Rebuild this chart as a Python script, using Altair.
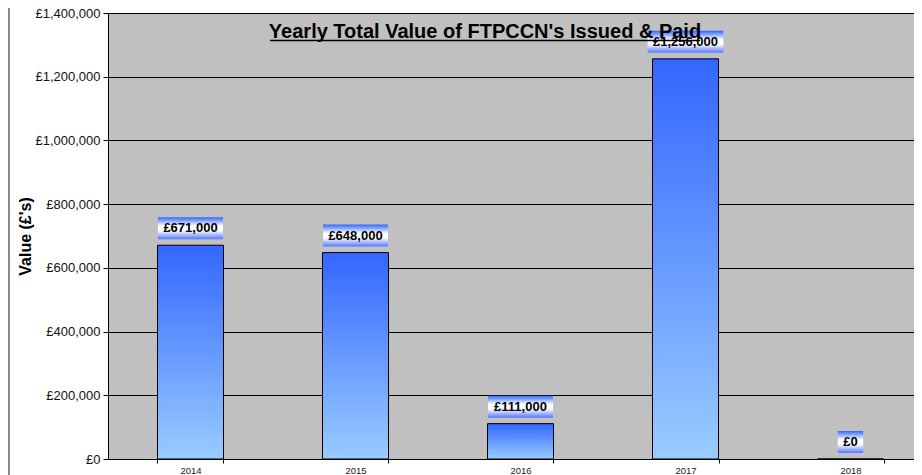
import altair as alt
import pandas as pd

years = ["2014", "2015", "2016", "2017", "2018"]
values = [671000, 648000, 111000, 1256000, 0]
labels = ["£671,000", "£648,000", "£111,000", "£1,256,000", "£0"]
y_ticks = [0, 200000, 400000, 600000, 800000, 1000000, 1200000, 1400000]
title_text = "Yearly  Total Value of FTPCCN's Issued & Paid"
y_title = "Value (£'s)"

df = pd.DataFrame({"year": years, "value": values, "label": labels})

FONT = "Liberation Sans"
PLOT_W = 806
PLOT_H = 446

x_scale = alt.Scale(domain=years, range=[0, 825], paddingInner=0.6, paddingOuter=0.3)
y_scale = alt.Scale(domain=[0, 1400000], nice=False)

bar_grad = alt.Gradient(
    gradient="linear",
    stops=[alt.GradientStop(offset=0, color="#3366ff"),
           alt.GradientStop(offset=1, color="#99ccff")],
    x1=0, x2=0, y1=0, y2=1,
)
box_grad = alt.Gradient(
    gradient="linear",
    stops=[alt.GradientStop(offset=0, color="#3366ff"),
           alt.GradientStop(offset=0.4, color="#ffffff"),
           alt.GradientStop(offset=0.6, color="#ffffff"),
           alt.GradientStop(offset=1, color="#5577ff")],
    x1=0, x2=0, y1=0, y2=1,
)

base = alt.Chart(df)

x_enc = alt.X(
    "year:N", scale=x_scale, sort=years,
    axis=alt.Axis(title=None, labelAngle=0, labelFont=FONT, labelFontSize=9.5,
                  labelColor="#222", domainColor="black", tickColor="black",
                  tickSize=4, tickBand="extent", labelPadding=2, grid=False),
)
y_enc = alt.Y(
    "value:Q", scale=y_scale,
    axis=alt.Axis(values=y_ticks, labelExpr="'£' + format(datum.value, ',')",
                  title=y_title, titleFont=FONT, titleFontSize=16,
                  titleFontWeight="bold", titleColor="black", titleAngle=270,
                  titleAlign="center", titleBaseline="middle",
                  titleX=-83, titleY=PLOT_H / 2,
                  labelFont=FONT, labelFontSize=13, labelColor="#111",
                  labelPadding=3, tickSize=5, tickColor="black",
                  domainColor="black", gridColor="black", gridWidth=1,
                  gridOpacity=1),
)

bars = base.mark_bar(color=bar_grad, stroke="black", strokeWidth=1).encode(
    x=x_enc, y=y_enc
)

boxes = base.mark_bar(
    color=box_grad,
    width=alt.ExprRef("7.2*length(datum.label) - 3.6*(datum.value >= 1000000 ? 2 : (datum.value >= 1000 ? 1 : 0)) + 11"),
    yOffset=-6, y2Offset=-28,
).encode(
    x=alt.X("year:N", scale=x_scale, sort=years),
    y=alt.Y("value:Q", scale=y_scale),
    y2="value:Q",
)

texts = base.mark_text(
    font=FONT, fontWeight="bold", fontSize=13, color="black",
    baseline="middle", dy=-17,
).encode(
    x=alt.X("year:N", scale=x_scale, sort=years),
    y=alt.Y("value:Q", scale=y_scale),
    text="label:N",
)

tdf = pd.DataFrame({"t": [title_text]})
title = alt.Chart(tdf).mark_text(
    font=FONT, fontWeight="bold", fontSize=20, color="black",
    baseline="alphabetic", align="center",
).encode(x=alt.value(377), y=alt.value(25), text="t:N")

underline = alt.Chart(tdf).mark_rule(color="black", strokeWidth=1.6).encode(
    x=alt.value(162), x2=alt.value(592), y=alt.value(27.5)
)

border = alt.Chart(tdf).mark_rule(color="#888888", strokeWidth=2).encode(
    x=alt.value(-99), y=alt.value(-5), y2=alt.value(462)
)

chart = alt.layer(bars, boxes, texts, title, underline, border).properties(
    width=PLOT_W, height=PLOT_H,
    autosize=alt.AutoSizeParams(type="none"),
    padding={"left": 100, "top": 5, "right": 0, "bottom": 16},
).configure_view(fill="#c0c0c0", stroke="#999999", strokeWidth=1)

chart.save("out.html", embed_options={"renderer": "svg", "actions": False})
